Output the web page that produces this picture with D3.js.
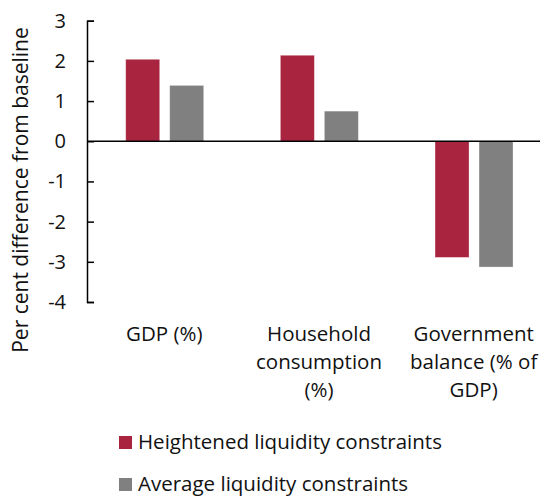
<!DOCTYPE html>
<html>
<head>
<meta charset="utf-8">
<script src="https://cdn.jsdelivr.net/npm/d3@7"></script>
<style>
  body { margin: 0; background: #fff; }
  svg text { font-family: "Open Sans", Lato, sans-serif; fill: #111; }
</style>
</head>
<body>
<div id="chart"></div>
<script>
// Data
var categories = ["GDP (%)", "Household consumption (%)", "Government balance (% of GDP)"];
var categoryLines = [["GDP (%)"], ["Household", "consumption", "(%)"], ["Government", "balance (% of", "GDP)"]];
var seriesNames = ["Heightened liquidity constraints", "Average liquidity constraints"];
var heightened = [2.04, 2.14, -2.89];
var average = [1.39, 0.75, -3.13];
var yTicks = [3, 2, 1, 0, -1, -2, -3, -4];

var width = 540, height = 497;
var colors = ["#a9243f", "#808080"];

var svg = d3.select("#chart").append("svg")
    .attr("width", width)
    .attr("height", height);

var y = d3.scaleLinear().domain([-4, 3]).range([302, 20.7]);

var x0 = d3.scaleBand().domain(categories).range([87, 551]);
var x1 = d3.scaleBand().domain(seriesNames)
    .range([38.7, 116.7])
    .paddingInner(10 / 44);

var rows = categories.map(function(c, i) {
  return { cat: c, values: [heightened[i], average[i]] };
});

// Bars
var grp = svg.selectAll(".grp")
    .data(rows).enter()
    .append("g")
    .attr("transform", function(d) { return "translate(" + x0(d.cat) + ",0)"; });

grp.selectAll("rect")
    .data(function(d) { return d.values.map(function(v, j) { return { name: seriesNames[j], value: v, j: j }; }); })
    .enter().append("rect")
    .attr("x", function(d) { return x1(d.name); })
    .attr("width", x1.bandwidth())
    .attr("y", function(d) { return y(Math.max(0, d.value)); })
    .attr("height", function(d) { return Math.abs(y(d.value) - y(0)); })
    .attr("fill", function(d) { return colors[d.j]; })
    .attr("stroke", "#fff")
    .attr("stroke-opacity", 0.4)
    .attr("stroke-width", 0.8);

// Zero line
svg.append("line")
    .attr("x1", 87).attr("x2", width)
    .attr("y1", y(0)).attr("y2", y(0))
    .attr("stroke", "#000")
    .attr("stroke-width", 1.5);

// Y axis
var yAxis = svg.append("g")
    .attr("transform", "translate(87,0)")
    .call(d3.axisLeft(y).tickValues(yTicks).tickSizeInner(-7).tickSizeOuter(-7).tickPadding(21).tickFormat(d3.format("d")));
yAxis.select(".domain").attr("stroke", "#000").attr("stroke-width", 1.5);
yAxis.selectAll(".tick line").attr("stroke", "#000").attr("stroke-width", 1.5);
yAxis.selectAll(".tick text")
    .style("font-size", "20px")
    .attr("fill", "#111")
    .text(function(d) { return d < 0 ? "-" + Math.abs(d) : d; });

// Y label
svg.append("text")
    .attr("transform", "translate(28," + 190 + ") rotate(-90)")
    .attr("text-anchor", "middle")
    .style("font-size", "21px")
    .text("Per cent difference from baseline");

// Category labels
var catLab = svg.selectAll(".catlab")
    .data(categories).enter()
    .append("text")
    .attr("class", "catlab")
    .attr("text-anchor", "middle")
    .style("font-size", "20.5px")
    .attr("x", function(d) { return x0(d) + x0.bandwidth() / 2; })
    .attr("y", 340.5);
catLab.selectAll("tspan")
    .data(function(d, i) { return categoryLines[i]; })
    .enter().append("tspan")
    .attr("x", function() { var c = d3.select(this.parentNode).datum(); return x0(c) + x0.bandwidth() / 2; })
    .attr("dy", function(d, i) { return i === 0 ? 0 : 28; })
    .text(function(d) { return d; });

// Legend
var legend = svg.selectAll(".legend")
    .data(seriesNames).enter()
    .append("g").attr("class", "legend")
    .attr("transform", function(d, i) { return "translate(119," + (436 + i * 42) + ")"; });
legend.append("rect")
    .attr("width", 13).attr("height", 13)
    .attr("fill", function(d, i) { return colors[i]; });
legend.append("text")
    .attr("x", 19).attr("y", 13)
    .style("font-size", "20.5px")
    .text(function(d) { return d; });
</script>
</body>
</html>
